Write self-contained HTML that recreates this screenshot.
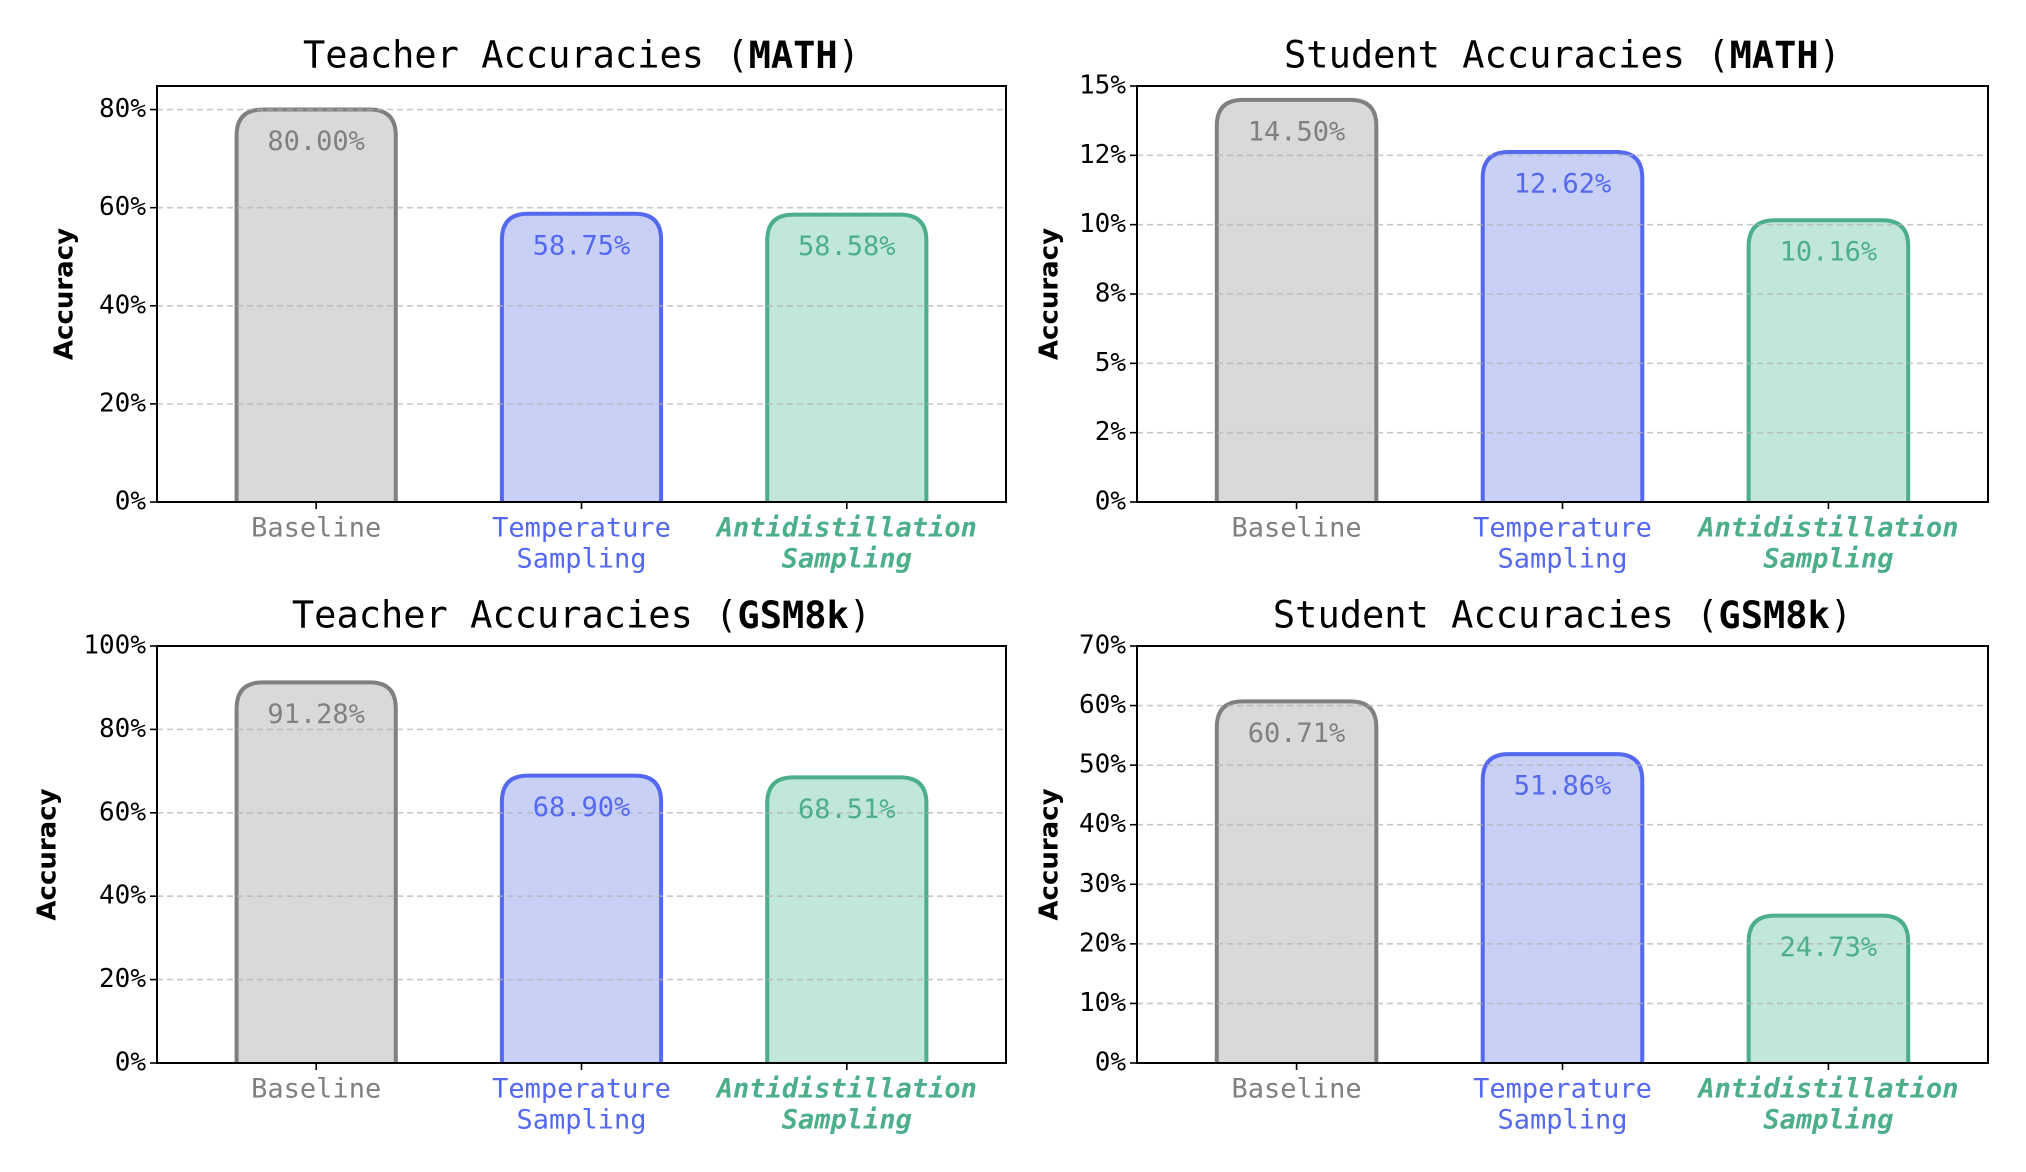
<!DOCTYPE html>
<html><head><meta charset="utf-8"><style>
html,body{margin:0;padding:0;background:#fff;}
svg{display:block;}
</style></head><body>
<svg id="fig" width="2026" height="1172" viewBox="0 0 2026 1172" xmlns="http://www.w3.org/2000/svg"></svg>
<script>
const categories = ["Baseline", "Temperature Sampling", "Antidistillation Sampling"];
const teacherMath = [80.00, 58.75, 58.58];
const studentMath = [14.50, 12.62, 10.16];
const teacherGsm = [91.28, 68.90, 68.51];
const studentGsm = [60.71, 51.86, 24.73];
const ticksTeacherMath = [0, 20, 40, 60, 80];
const tickLabelsTeacherMath = ["0%", "20%", "40%", "60%", "80%"];
const ticksStudentMath = [0, 2.5, 5, 7.5, 10, 12.5, 15];
const tickLabelsStudentMath = ["0%", "2%", "5%", "8%", "10%", "12%", "15%"];
const ticksTeacherGsm = [0, 20, 40, 60, 80, 100];
const tickLabelsTeacherGsm = ["0%", "20%", "40%", "60%", "80%", "100%"];
const ticksStudentGsm = [0, 10, 20, 30, 40, 50, 60, 70];
const tickLabelsStudentGsm = ["0%", "10%", "20%", "30%", "40%", "50%", "60%", "70%"];

const NS = "http://www.w3.org/2000/svg";
const svg = document.getElementById("fig");
const MONO = '"DejaVu Sans Mono","Liberation Mono",monospace';
const SANS = '"DejaVu Sans","Liberation Sans",sans-serif';
const strokes = ["#808080", "#5468f0", "#4caf8a"];
const fills = ["#d9d9d9", "#c8d0f6", "#c1e6da"];

function mk(tag, attrs, parent) {
  const e = document.createElementNS(NS, tag);
  for (const k in attrs) e.setAttribute(k, attrs[k]);
  (parent || svg).appendChild(e);
  return e;
}

function panel(cfg) {
  const g = mk("g", {});
  
  
  const {L, R, T, B} = cfg;
  const xs = i => L + (i + 0.6) / 3.2 * (R - L);
  const ys = v => B - v / cfg.ymax * (B - T);
  const bw = 0.6 / 3.2 * (R - L);
  const t = mk("text", {x: (L + R) / 2, y: T - 29, "text-anchor": "middle", "dominant-baseline": "middle", "font-family": MONO, "font-size": 37, fill: "#000"}, g);
  
  
  t.appendChild(document.createTextNode(cfg.title + " ("));
  const tb = mk("tspan", {"font-weight": "bold"}, t); tb.textContent = cfg.dataset;
  t.appendChild(document.createTextNode(")"));
  cfg.values.forEach((v, i) => {
    const x0 = xs(i) - bw / 2, x1 = xs(i) + bw / 2, yt = ys(v), r = Math.min(26, (B - yt));
    const p = mk("path", {d: `M${x0},${B} L${x0},${yt + r} Q${x0},${yt} ${x0 + r},${yt} L${x1 - r},${yt} Q${x1},${yt} ${x1},${yt + r} L${x1},${B}`, fill: fills[i], stroke: strokes[i], "stroke-width": 4}, g);
    
    
  });
  cfg.ticks.forEach(tv => {
    if (tv === 0 || tv >= cfg.ymax) return;
    const l = mk("line", {x1: L, x2: R, y1: ys(tv), y2: ys(tv), stroke: "#b0b0b0", "stroke-opacity": 0.7, "stroke-width": 1.6, "stroke-dasharray": "6,4"}, g);
    
    
  });
  cfg.values.forEach((v, i) => {
    const tx = mk("text", {x: xs(i), y: ys(v) + 33, "text-anchor": "middle", "dominant-baseline": "middle", "font-family": MONO, "font-size": 27, fill: strokes[i]}, g);
    
    
    tx.textContent = v.toFixed(2) + "%";
  });
  const fr = mk("rect", {x: L, y: T, width: R - L, height: B - T, fill: "none", stroke: "#000", "stroke-width": 2}, g);
  
  
  cfg.ticks.forEach((tv, k) => {
    mk("line", {x1: L - 7, x2: L, y1: ys(tv), y2: ys(tv), stroke: "#000", "stroke-width": 1.6}, g);
    const tl = mk("text", {x: L - 11, y: ys(tv), "text-anchor": "end", "dominant-baseline": "middle", "font-family": MONO, "font-size": 26, fill: "#000"}, g);
    
    
    tl.textContent = cfg.tickLabels[k];
  });
  categories.forEach((c, i) => {
    mk("line", {x1: xs(i), x2: xs(i), y1: B, y2: B + 7, stroke: "#000", "stroke-width": 1.6}, g);
    const lines = i === 0 ? [c] : c.split(" ");
    lines.forEach((w, j) => {
      const tx = mk("text", {x: xs(i), y: B + 27 + j * 31, "text-anchor": "middle", "dominant-baseline": "middle", "font-family": MONO, "font-size": 27, fill: strokes[i]}, g);
      if (i === 2) { tx.setAttribute("font-weight", "bold"); tx.setAttribute("font-style", "italic"); }
      
      
      tx.textContent = w;
    });
  });
  const yl = mk("text", {x: cfg.ylx, y: (T + B) / 2, "text-anchor": "middle", "dominant-baseline": "middle", "font-family": SANS, "font-size": 26, "font-weight": "bold", fill: "#000", transform: `rotate(-90 ${cfg.ylx} ${(T + B) / 2})`}, g);
  
  
  yl.textContent = "Accuracy";
}

panel({name: "teacher-math-chart", title: "Teacher Accuracies", dataset: "MATH", values: teacherMath, ticks: ticksTeacherMath, tickLabels: tickLabelsTeacherMath, ymax: 84.8, L: 157, R: 1006, T: 86, B: 502, ylx: 65});
panel({name: "student-math-chart", title: "Student Accuracies", dataset: "MATH", values: studentMath, ticks: ticksStudentMath, tickLabels: tickLabelsStudentMath, ymax: 15, L: 1137, R: 1988, T: 86, B: 502, ylx: 1050});
panel({name: "teacher-gsm8k-chart", title: "Teacher Accuracies", dataset: "GSM8k", values: teacherGsm, ticks: ticksTeacherGsm, tickLabels: tickLabelsTeacherGsm, ymax: 100, L: 157, R: 1006, T: 646, B: 1063, ylx: 48});
panel({name: "student-gsm8k-chart", title: "Student Accuracies", dataset: "GSM8k", values: studentGsm, ticks: ticksStudentGsm, tickLabels: tickLabelsStudentGsm, ymax: 70, L: 1137, R: 1988, T: 646, B: 1063, ylx: 1050});
</script>
</body></html>
